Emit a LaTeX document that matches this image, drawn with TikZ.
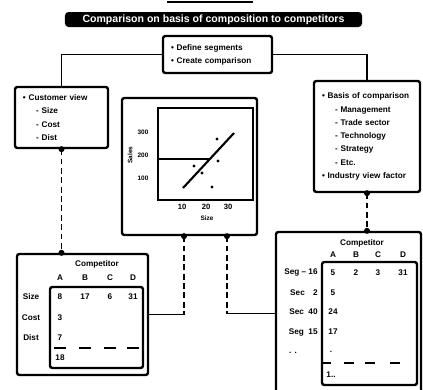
\documentclass[tikz,border=0pt]{standalone}
\usepackage{fontspec}
\setsansfont{Liberation Sans}

\begin{document}
\begin{tikzpicture}[x=0.03cm,y=-0.03cm,
    font=\sffamily\bfseries\fontsize{7}{11.3}\selectfont,
    box/.style={draw,line width=2pt,rounded corners=2pt,align=left,inner xsep=0.24cm},
    banner/.style={fill=black,text=white,rounded corners=3pt,minimum width=8.91cm,
      minimum height=0.45cm,inner sep=1pt,font=\sffamily\bfseries\fontsize{9}{10}\selectfont},
    frame/.style={draw,line width=2pt,rounded corners=2pt},
    link/.style={line width=1.5pt},
    dlink/.style={line width=1.5pt,dash pattern=on 5pt off 3pt},
    dot/.style={circle,fill,inner sep=0pt,minimum size=0.18cm},
    cell/.style={inner sep=1pt},
    tick/.style={inner sep=0.5pt,font=\sffamily\bfseries\fontsize{5.5}{6}\selectfont}
  ]
  \useasboundingbox (0,0) rectangle (423,389);
  \clip (0,0) rectangle (423,389);

  % heading
  \draw[line width=1.7pt] (167,2) -- (253,2);
  \node[banner] (title) at (213.5,19.5) {Comparison on basis of composition to competitors};

  % top row of boxes
  \node[box,text width=2.79cm,minimum height=1.11cm] (define) at (217.5,54.5)
    {\textbullet\ Define segments\\\textbullet\ Create comparison};
  \node[box,text width=2.31cm,minimum height=1.83cm] (cust) at (61.5,117.5)
    {\textbullet\ Customer view\\\hspace*{1.6em}- Size\\\hspace*{1.6em}- Cost\\\hspace*{1.6em}- Dist};
  \node[box,text width=2.70cm,minimum height=3.33cm] (basis) at (367,136.5)
    {\textbullet\ Basis of comparison\\\hspace*{1.6em}- Management\\\hspace*{1.6em}- Trade sector\\
     \hspace*{1.6em}- Technology\\\hspace*{1.6em}- Strategy\\\hspace*{1.6em}- Etc.\\\textbullet\ Industry view factor};

  % chart
  \node[frame,minimum width=4.05cm,minimum height=4.11cm] (chart) at (189.5,166.5) {};
  \node[frame,rounded corners=0pt,minimum width=2.85cm,minimum height=2.76cm] (plot) at (205.5,154) {};
  \foreach \v/\y in {300/132,200/155,100/178}
    \node[tick] (yt\v) at (143,\y) {\v};
  \foreach \v/\x in {10/182,20/206,30/228}
    \node[tick,font=\sffamily\bfseries\fontsize{6.5}{7}\selectfont] (xt\v) at (\x,207) {\v};
  \node[tick,rotate=90] (ylab) at (130,155) {Sales};
  \node[tick] (xlab) at (207,218) {Size};
  \draw[link] (158,159) -- (210,159);
  \draw[line width=1.8pt] (183,188) -- (234,133);
  \foreach \p in {(217,139),(194,166),(218,161),(202,173),(212,187),(208,160)}
    \fill \p circle (1.4pt);

  % left table
  \node[frame,minimum width=3.93cm,minimum height=3.63cm] (ltab) at (82.5,314.5) {};
  \node[frame,minimum width=2.79cm,minimum height=2.43cm] (lgrid) at (96.5,327.5) {};
  \node[cell] (lhead) at (97,264) {Competitor};
  \foreach \c/\x in {A/60,B/85,C/110,D/133}
    \node[cell] (lc\c) at (\x,278) {\c};
  \node[cell] (lrow1) at (31,297) {Size};
  \node[cell] (lrow2) at (31,318) {Cost};
  \node[cell] (lrow3) at (31,338) {Dist};
  \foreach \v/\x in {8/60,17/85,6/110,31/133}
    \node[cell] (lv\x) at (\x,297) {\v};
  \node[cell] (lv2) at (60,318) {3};
  \node[cell] (lv3) at (60,338) {7};
  \foreach \x in {60,85,110,133}
    \draw[link] (\x-6,348) -- (\x+6,348);
  \node[cell] (lsum) at (60,358) {18};

  % right table
  \node[frame,minimum width=4.35cm,minimum height=4.89cm] (rtab) at (348.5,313.5) {};
  \node[frame,minimum width=2.85cm,minimum height=3.69cm] (rgrid) at (369.5,323.5) {};
  \node[cell] (rhead) at (362,243) {Competitor};
  \foreach \c/\x in {A/333,B/356,C/378,D/403}
    \node[cell] (rc\c) at (\x,255) {\c};
  \node[cell,anchor=east] (rrow1) at (319,273) {Seg -- 16};
  \node[cell,anchor=east] (rrow2) at (319,293) {Sec\quad 2};
  \node[cell,anchor=east] (rrow3) at (319,312) {Sec\ \ 40};
  \node[cell,anchor=east] (rrow4) at (319,332) {Seg\ \ 15};
  \node[cell] (rrow5) at (293,353) {. .};
  \foreach \v/\x in {5/333,2/356,3/378,31/403}
    \node[cell] (rv\x) at (\x,273) {\v};
  \node[cell] (rv2) at (333,293) {5};
  \node[cell] (rv3) at (333,312) {24};
  \node[cell] (rv4) at (333,332) {17};
  \node[cell] (rv5) at (331,352) {.};
  \foreach \x in {326,349,370,395}
    \draw[link] (\x-5,363) -- (\x+5,363);
  \node[cell] (rsum) at (331,375) {1..};

  % connectors
  \draw[link] (define.west) -| (cust.north);
  \draw[link] (define.east) -| (basis.north);
  \draw[dlink] (cust.south) node[dot]{} -- (cust.south |- ltab.north) node[dot]{};
  \draw[dlink] (basis.south) node[dot]{} -- (basis.south |- rtab.north) node[dot]{};
  \coordinate (cl) at ([xshift=-0.165cm]chart.south);
  \coordinate (cr) at ([xshift=1.125cm]chart.south);
  \draw[dlink] (cl) node[dot]{} -- (cl |- ltab.east);
  \draw[link] (cl |- ltab.east) -- (ltab.east);
  \draw[dlink] (cr) node[dot]{} -- (cr |- rtab.west);
  \draw[link] (cr |- rtab.west) -- (rtab.west);
\end{tikzpicture}
\end{document}
